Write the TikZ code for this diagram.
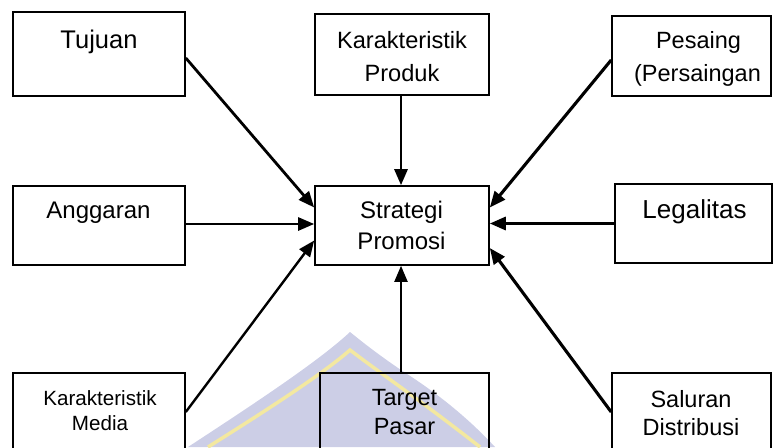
\documentclass[tikz,border=0pt]{standalone}
\usepackage{fontspec}
\setmainfont{Liberation Sans}
\usetikzlibrary{arrows.meta}
\definecolor{wmblue}{RGB}{204,206,230}
\definecolor{wmyellow}{RGB}{243,232,160}
\tikzset{
  box/.style={draw=black, line width=1.6pt, rectangle, inner sep=0pt},
  lbl/.style={anchor=base, inner sep=0pt, text=black},
  arr/.style={-{Triangle[length=16pt,width=13pt]}, line width=2.8pt, draw=black},
  fs/.style={font=\fontsize{#1}{#1}\selectfont}
}
\begin{document}
\begin{tikzpicture}[x=1pt,y=-1pt]
\useasboundingbox (0,0) rectangle (773,447);
\clip (0,0) rectangle (773,447);
% watermark
\fill[wmblue] (188,447) .. controls (260,400) and (320,360) .. (350,332)
  .. controls (372,350) and (392,364) .. (404,372)
  .. controls (440,395) and (470,420) .. (495,447) -- cycle;
\draw[wmyellow, line width=3.5pt] (208,447) .. controls (275,405) and (325,372) .. (350,350)
  .. controls (380,373) and (420,400) .. (480,447);
% boxes
\node[box, minimum width=172pt, minimum height=84pt] (tujuan) at (99,54) {};
\node[box, minimum width=172pt, minimum height=79pt] (anggaran) at (99,225.5) {};
\node[box, minimum width=172pt, minimum height=97pt] (media) at (99,421.5) {};
\node[box, minimum width=174pt, minimum height=79pt] (strategi) at (402,225.5) {};
\node[box, minimum width=174pt, minimum height=81pt] (produk) at (402,54.5) {};
\node[box, minimum width=159pt, minimum height=80pt] (pesaing) at (691.5,56) {};
\node[box, minimum width=157pt, minimum height=79pt] (legalitas) at (693.5,223.5) {};
\node[box, minimum width=169pt, minimum height=97pt] (target) at (404.5,421.5) {};
\node[box, minimum width=159pt, minimum height=97pt] (saluran) at (691.5,421.5) {};
% labels
\node[lbl, fs=25.5] (tTujuan) at (99,48) {Tujuan};
\node[lbl, fs=24] (tAnggaran) at (98.5,218) {Anggaran};
\node[lbl, fs=20.6] (tMedia1) at (100,405) {Karakteristik};
\node[lbl, fs=20.6] (tMedia2) at (100,430) {Media};
\node[lbl, fs=24] (tStrat1) at (401.5,218) {Strategi};
\node[lbl, fs=24] (tStrat2) at (401.5,249) {Promosi};
\node[lbl, fs=23.6] (tProd1) at (402,48) {Karakteristik};
\node[lbl, fs=23.6] (tProd2) at (402,81) {Produk};
\node[lbl, fs=23.5] (tPes1) at (698.5,48) {Pesaing};
\node[lbl, fs=23.5] (tPes2) at (697.5,81) {(Persaingan};
\node[lbl, fs=26] (tLegal) at (694.5,218) {Legalitas};
\node[lbl, fs=23.5] (tTarget1) at (404.5,405) {Target};
\node[lbl, fs=23.5] (tTarget2) at (404.5,434) {Pasar};
\node[lbl, fs=23.5] (tSal1) at (691,407) {Saluran};
\node[lbl, fs=23.5] (tSal2) at (691,435) {Distribusi};
% arrows
\draw[arr] ([yshift=-4pt]tujuan.east) -- ([yshift=18pt]strategi.west);
\draw[arr, line width=2.6pt] ([yshift=1.5pt]anggaran.east) -- ([yshift=1.5pt]strategi.west);
\draw[arr, line width=2.4pt] ([yshift=9.5pt]media.east) -- ([yshift=-15pt]strategi.west);
\draw[arr] ([xshift=-1pt]produk.south) -- ([xshift=-1pt]strategi.north);
\draw[arr, line width=3.1pt] ([yshift=-4pt]pesaing.west) -- ([yshift=18pt]strategi.east);
\draw[arr, line width=3.1pt] (legalitas.west) -- (strategi.east |- legalitas.west);
\draw[arr, line width=2.1pt] ([xshift=-3.5pt]target.north) -- ([xshift=-1pt]strategi.south);
\draw[arr, line width=3.1pt] ([yshift=9.5pt]saluran.west) -- ([yshift=-22.5pt]strategi.east);
\end{tikzpicture}
\end{document}
